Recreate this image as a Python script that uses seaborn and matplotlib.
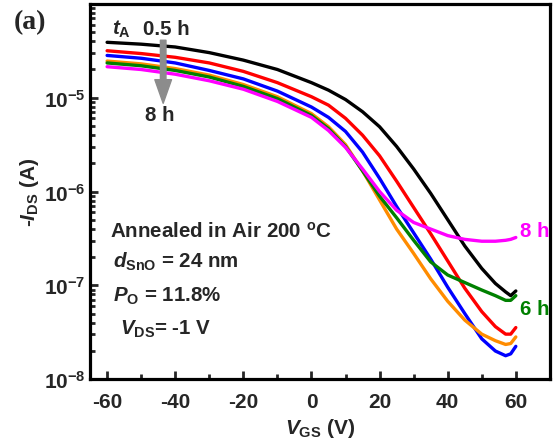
import matplotlib
matplotlib.use("Agg")
import matplotlib.pyplot as plt
import matplotlib.ticker as mticker
import numpy as np
import pandas as pd
import seaborn as sns

# gate voltage (V) and log10 of -I_DS (A)
vgs = [-60, -50, -40, -30, -20, -10, 0, 5, 10, 15, 20, 25, 30, 35, 40, 45, 50, 54, 57, 58.5, 60]
log_05h = [-4.41, -4.43, -4.46, -4.52, -4.60, -4.70, -4.84, -4.92, -5.02, -5.15, -5.31,
           -5.52, -5.76, -6.02, -6.30, -6.58, -6.82, -6.98, -7.07, -7.11, -7.06]
log_1h = [-4.50, -4.53, -4.57, -4.63, -4.72, -4.84, -4.99, -5.08, -5.22, -5.40, -5.62,
          -5.89, -6.17, -6.45, -6.74, -7.03, -7.28, -7.44, -7.52, -7.52, -7.45]
log_2h = [-4.55, -4.58, -4.63, -4.71, -4.80, -4.93, -5.10, -5.21, -5.36, -5.58, -5.86,
          -6.16, -6.44, -6.72, -7.02, -7.30, -7.57, -7.70, -7.75, -7.73, -7.65]
log_4h = [-4.61, -4.64, -4.69, -4.76, -4.86, -4.99, -5.17, -5.31, -5.50, -5.78, -6.09,
          -6.40, -6.66, -6.93, -7.17, -7.37, -7.52, -7.59, -7.63, -7.62, -7.55]
log_6h = [-4.63, -4.66, -4.71, -4.78, -4.88, -5.01, -5.19, -5.33, -5.52, -5.78, -6.05,
          -6.28, -6.52, -6.75, -6.89, -6.97, -7.05, -7.11, -7.16, -7.16, -7.11]
log_8h = [-4.67, -4.70, -4.75, -4.82, -4.91, -5.04, -5.21, -5.35, -5.53, -5.76, -6.00,
          -6.20, -6.33, -6.40, -6.47, -6.51, -6.53, -6.53, -6.52, -6.51, -6.49]

series = ["0.5 h", "1 h", "2 h", "4 h", "6 h", "8 h"]
colors = ["black", "#FF0000", "#0000FF", "#FF8C00", "#008000", "#FF00FF"]
x_ticks = [-60, -40, -20, 0, 20, 40, 60]
y_ticks = [1e-8, 1e-7, 1e-6, 1e-5]
y_labels = ["$10^{-8}$", "$10^{-7}$", "$10^{-6}$", "$10^{-5}$"]

frames = []
for name, vals in zip(series, [log_05h, log_1h, log_2h, log_4h, log_6h, log_8h]):
    frames.append(pd.DataFrame({"VGS": vgs, "IDS": 10.0 ** np.array(vals), "tA": name}))
df = pd.concat(frames, ignore_index=True)

sns.set_style("ticks")
plt.rcParams["font.family"] = ["Liberation Sans", "DejaVu Sans"]
plt.rcParams["font.weight"] = "bold"
plt.rcParams["axes.unicode_minus"] = False
plt.rcParams["mathtext.fontset"] = "custom"
plt.rcParams["mathtext.rm"] = "Liberation Sans:bold"
plt.rcParams["mathtext.bf"] = "Liberation Sans:bold"
plt.rcParams["mathtext.it"] = "Liberation Sans:italic:bold"

fig = plt.figure(figsize=(5.56, 4.39), dpi=100)
ax = fig.add_axes([0.162, 0.134, 0.827, 0.855])

sns.lineplot(data=df, x="VGS", y="IDS", hue="tA", palette=colors, sort=False,
             estimator=None, legend=False, linewidth=2.4, ax=ax)

ax.set_yscale("log")
ax.set_xlim(-65, 70)
ax.set_ylim(1e-8, 1e-4)

ax.set_xticks(x_ticks)
ax.xaxis.set_minor_locator(mticker.MultipleLocator(10))
ax.set_yticks(y_ticks)
ax.set_yticklabels(y_labels)
ax.yaxis.set_minor_locator(mticker.LogLocator(base=10, subs=np.arange(2, 10)))
ax.yaxis.set_minor_formatter(mticker.NullFormatter())
ax.tick_params(which="both", direction="in", top=False, right=False, width=2, labelsize=15)
ax.tick_params(which="major", length=6)
ax.tick_params(which="minor", length=3.5)
ax.tick_params(axis="x", which="major", pad=9)
for lab in ax.get_xticklabels():
    lab.set_fontweight("bold")

for sp in ax.spines.values():
    sp.set_linewidth(2.3)
    sp.set_color("black")

ax.set_xlabel("$V_{\\rm GS}$ (V)", fontsize=15, fontweight="bold", labelpad=4)
ax.set_ylabel("-$I_{\\rm DS}$ (A)", fontsize=15, fontweight="bold", labelpad=2)

fig.text(0.025, 0.948, "(a)", fontsize=20, fontweight="bold", family="Liberation Serif", va="center")

tkw = dict(transform=ax.transAxes, fontsize=14.8, fontweight="bold", va="center")
ax.text(0.048, 0.935, "$t_{\\rm A}$", **tkw)
ax.text(0.115, 0.935, "0.5 h", **tkw)
ax.text(0.120, 0.705, "8 h", **tkw)
ax.annotate("", xy=(0.159, 0.735), xytext=(0.159, 0.903), xycoords="axes fraction",
            arrowprops=dict(facecolor="#8c8c8c", edgecolor="#8c8c8c", width=4,
                            headwidth=12, headlength=17))
ax.text(0.043, 0.395, "Annealed in Air 200 $^{\\rm o}$C", **tkw)
ax.text(0.050, 0.315, "$d_{\\rm SnO}$ = 24 nm", **tkw)
ax.text(0.050, 0.222, "$P_{\\rm O}$ = 11.8%", **tkw)
ax.text(0.066, 0.136, "$V_{\\rm DS}$= -1 V", **tkw)
ax.text(0.935, 0.395, "8 h", color="#FF00FF", **tkw)
ax.text(0.935, 0.187, "6 h", color="#008000", **tkw)

fig.savefig("out.png", dpi=100)
